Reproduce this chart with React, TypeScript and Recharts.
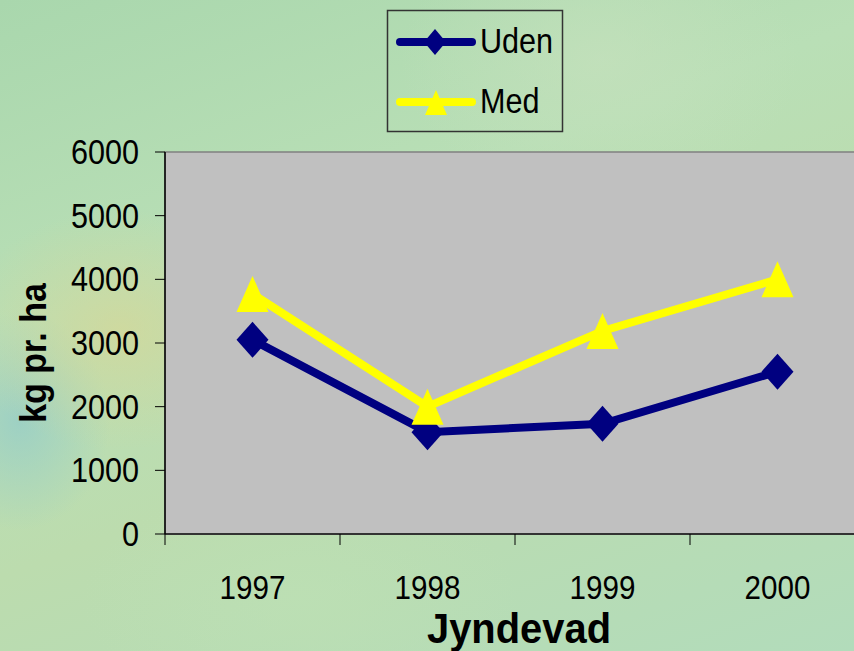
import {
  Label,
  Line,
  LineChart,
  ReferenceArea,
  XAxis,
  YAxis,
} from "recharts";

const years = ["1997", "1998", "1999", "2000"];
const uden = [3050, 1600, 1730, 2550];
const med = [3770, 2000, 3190, 4000];
const yTicks = [0, 1000, 2000, 3000, 4000, 5000, 6000];

// points sit in the middle of each category slot, tick marks on the slot edges
const data = years.map((year, i) => ({ x: i + 0.5, year, uden: uden[i], med: med[i] }));
const xTicks = years.flatMap((_, i) => [i, i + 0.5]).concat(years.length);

const font = '"Liberation Sans", Arial, sans-serif';
const NAVY = "#000080";
const YELLOW = "#ffff00";

const Diamond = ({ cx, cy }: any) =>
  cx == null ? null : (
    <polygon
      points={`${cx},${cy - 18} ${cx + 16},${cy} ${cx},${cy + 18} ${cx - 16},${cy}`}
      fill={NAVY}
    />
  );

const Triangle = ({ cx, cy }: any) =>
  cx == null ? null : (
    <polygon
      points={`${cx},${cy - 18} ${cx + 16},${cy + 18} ${cx - 16},${cy + 18}`}
      fill={YELLOW}
    />
  );

const YTick = ({ x, y, payload }: any) => (
  <g transform={`translate(${x},${y})`}>
    <text
      x={0}
      y={12}
      textAnchor="end"
      transform="scale(0.85,1)"
      fontFamily={font}
      fontSize={36}
      fill="#000"
    >
      {payload.value}
    </text>
  </g>
);

const XTick = ({ x, y, payload }: any) => {
  const v = payload.value as number;
  if (Number.isInteger(v)) {
    return <line x1={x} x2={x} y1={y} y2={y + 11} stroke="#000" strokeWidth={1} />;
  }
  return (
    <g transform={`translate(${x},${y + 65})`}>
      <text
        x={0}
        y={0}
        textAnchor="middle"
        transform="scale(0.87,1)"
        fontFamily={font}
        fontSize={34}
        fill="#000"
      >
        {years[Math.floor(v)]}
      </text>
    </g>
  );
};

const YTitle = ({ viewBox }: any) => {
  const cx = viewBox.x + 35;
  const cy = viewBox.y + viewBox.height / 2 + 10;
  return (
    <g transform={`translate(${cx},${cy}) rotate(-90)`}>
      <text
        x={0}
        y={10}
        textAnchor="middle"
        transform="scale(1.03,1.1)"
        fontFamily={font}
        fontWeight="bold"
        fontSize={33}
        fill="#000"
      >
        kg pr. ha
      </text>
    </g>
  );
};

const XTitle = () => (
  <g transform="translate(519,643)">
    <text
      x={0}
      y={0}
      textAnchor="middle"
      transform="scale(0.95,1)"
      fontFamily={font}
      fontWeight="bold"
      fontSize={42}
      fill="#000"
    >
      Jyndevad
    </text>
  </g>
);

function LegendBox() {
  const rows = [
    { name: "Uden", color: NAVY, shape: "diamond", y: 42 },
    { name: "Med", color: YELLOW, shape: "triangle", y: 102 },
  ];
  return (
    <svg
      width={854}
      height={140}
      style={{ position: "absolute", left: 0, top: 0, pointerEvents: "none" }}
    >
      <rect x={387.5} y={10.5} width={175} height={121} fill="none" stroke="#333" strokeWidth={1.5} />
      {rows.map((r) => (
        <g key={r.name}>
          <line x1={400} x2={472} y1={r.y} y2={r.y} stroke={r.color} strokeWidth={8} strokeLinecap="round" />
          {r.shape === "diamond" ? (
            <polygon
              points={`435,${r.y - 13} 446,${r.y} 435,${r.y + 13} 424,${r.y}`}
              fill={r.color}
            />
          ) : (
            <polygon
              points={`436,${r.y - 12} 447,${r.y + 13} 425,${r.y + 13}`}
              fill={r.color}
            />
          )}
          <g transform={`translate(480,${r.y + 11})`}>
            <text x={0} y={0} transform="scale(0.85,1)" fontFamily={font} fontSize={36} fill="#000">
              {r.name}
            </text>
          </g>
        </g>
      ))}
    </svg>
  );
}

export default function App() {
  return (
    <div
      style={{
        position: "absolute",
        left: 0,
        top: 0,
        width: 854,
        height: 651,
        overflow: "hidden",
        background:
          "radial-gradient(ellipse 160px 120px at 120px 330px, rgba(215,215,150,0.7), rgba(215,215,150,0) 100%)," +
          "radial-gradient(ellipse 90px 110px at 20px 420px, rgba(150,205,200,0.8), rgba(150,205,200,0) 100%)," +
          "radial-gradient(ellipse 200px 140px at 600px 60px, rgba(200,225,190,0.6), rgba(200,225,190,0) 100%)," +
          "radial-gradient(ellipse 220px 120px at 300px 600px, rgba(190,225,180,0.6), rgba(190,225,180,0) 100%)," +
          "linear-gradient(160deg, #a9d7ad 0%, #b9dfb6 35%, #bcdcae 60%, #b2dcbb 100%)",
      }}
    >
      <LineChart
        width={854}
        height={651}
        data={data}
        margin={{ top: 152, right: -11, left: 0, bottom: 0 }}
      >
        <ReferenceArea
          x1={0}
          x2={4}
          y1={0}
          y2={6000}
          fill="#c0c0c0"
          fillOpacity={1}
          stroke="#808080"
          strokeWidth={1.5}
          ifOverflow="visible"
        />
        <XAxis
          type="number"
          dataKey="x"
          domain={[0, 4]}
          ticks={xTicks}
          interval={0}
          height={117}
          tickSize={0}
          tickMargin={0}
          tickLine={false}
          tick={<XTick />}
          axisLine={{ stroke: "#333", strokeWidth: 2 }}
        >
          <Label content={<XTitle />} />
        </XAxis>
        <YAxis
          type="number"
          domain={[0, 6000]}
          ticks={yTicks}
          interval={0}
          width={165}
          tickSize={10}
          tickMargin={16}
          tickLine={{ stroke: "#000" }}
          tick={<YTick />}
          axisLine={{ stroke: "#000", strokeWidth: 1.5 }}
        >
          <Label content={<YTitle />} />
        </YAxis>
        <Line
          dataKey="uden"
          name="Uden"
          stroke={NAVY}
          strokeWidth={8}
          dot={<Diamond />}
          activeDot={false}
          isAnimationActive={false}
        />
        <Line
          dataKey="med"
          name="Med"
          stroke={YELLOW}
          strokeWidth={8}
          dot={<Triangle />}
          activeDot={false}
          isAnimationActive={false}
        />
      </LineChart>
      <LegendBox />
    </div>
  );
}
